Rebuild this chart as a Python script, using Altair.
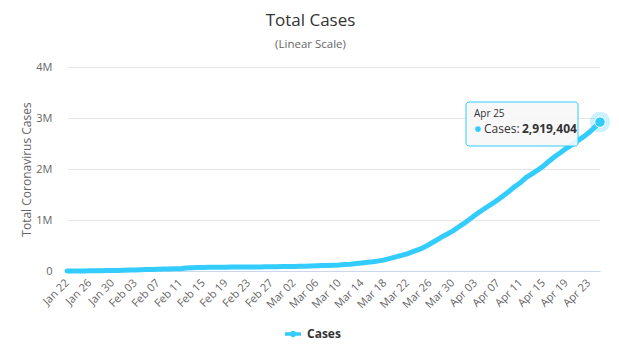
import altair as alt
import pandas as pd

dates = list(pd.date_range("2020-01-22", "2020-04-25").strftime("%b %d"))
cases = [
    580, 845, 1317, 2015, 2800, 4581, 6058, 7813, 9823, 11950,
    14553, 17391, 20630, 24545, 28266, 31439, 34876, 37552, 40553, 43099,
    45134, 59287, 64438, 67100, 69197, 71329, 73332, 75184, 75700, 76677,
    77673, 78651, 79205, 80087, 80828, 81820, 83112, 84615, 86604, 88585,
    90443, 93016, 95314, 98425, 102050, 106099, 109991, 114381, 118948, 126214,
    134576, 145483, 156653, 169593, 182490, 198238, 218822, 246417, 275856, 305036,
    336953, 378235, 418045, 467653, 529591, 593291, 660706, 720117, 782365, 857487,
    932605, 1013157, 1095917, 1176060, 1249754, 1321481, 1396476, 1480202, 1565278, 1657526,
    1735650, 1834721, 1904838, 1976191, 2056054, 2152437, 2240190, 2317758, 2401378, 2472259,
    2549123, 2624074, 2708885, 2811193, 2919404,
]
series = "Cases"
tick_labels = dates[::4]
y_ticks = [0, 1000000, 2000000, 3000000, 4000000]

FONT = "Open Sans"
BLUE = "#33ccff"

df = pd.DataFrame({"date": dates, "cases": cases, "series": series})
last = df.tail(1)

x_enc = alt.X("date:O", sort=dates,
              scale=alt.Scale(type="point", padding=0),
              axis=alt.Axis(title=None, values=tick_labels, labelAngle=-45,
                            labelAlign="right", labelBaseline="middle",
                            labelPadding=10, labelFontSize=11, labelColor="#666",
                            labelFont=FONT, ticks=False, domainColor="#ccd6eb",
                            grid=False, labelOverlap=False))
y_enc = alt.Y("cases:Q", scale=alt.Scale(domain=[0, 4000000], nice=False),
              axis=alt.Axis(title="Total Coronavirus Cases", values=y_ticks,
                            labelExpr="datum.value == 0 ? '0' : (datum.value / 1000000) + 'M'",
                            labelFontSize=11, labelColor="#666",
                            labelFont=FONT, labelPadding=15, ticks=False,
                            domain=False, gridColor="#e6e6e6",
                            titleFont=FONT, titleFontSize=12, titleFontWeight="normal",
                            titleColor="#666", titlePadding=2))

legend_shape = ("M-1,-0.22 L1,-0.22 L1,0.22 L-1,0.22 Z "
                "M0.4,0 A0.4,0.4 0 1,1 -0.4,0 A0.4,0.4 0 1,1 0.4,0 Z")

line = alt.Chart(df).mark_line(strokeWidth=5, strokeCap="round", strokeJoin="round").encode(
    x=x_enc, y=y_enc,
    color=alt.Color("series:N", scale=alt.Scale(range=[BLUE]),
                    legend=alt.Legend(title=None, orient="none", legendX=218, legendY=259,
                                      symbolType=legend_shape, symbolSize=256,
                                      symbolFillColor=BLUE, symbolStrokeColor=BLUE,
                                      symbolStrokeWidth=0, symbolOpacity=1,
                                      labelFont=FONT, labelOffset=6,
                                      labelFontSize=12, labelFontWeight="bold",
                                      labelColor="#333")))

base_last = alt.Chart(last).encode(x=alt.X("date:O", sort=dates), y="cases:Q")
halo = base_last.mark_point(filled=True, size=420, color=BLUE, opacity=0.25)
dot = base_last.mark_point(filled=True, size=110, color=BLUE, opacity=1,
                           stroke="white", strokeWidth=1)

tip_box = alt.Chart(last).mark_rect(fill="#f7f7f7", fillOpacity=0.9, stroke=BLUE,
                                    strokeWidth=1, cornerRadius=3).encode(
    x=alt.value(399), x2=alt.value(511), y=alt.value(35), y2=alt.value(79))
tip_date = base_last.mark_text(align="left", baseline="middle", dx=-126, dy=-8,
                               font=FONT, fontSize=10, color="#333").encode(
    text=alt.value("Apr 25"))
tip_bullet = base_last.mark_point(filled=True, size=32, color=BLUE, opacity=1,
                                  shape="circle", xOffset=-122, yOffset=7)
tip_label = base_last.mark_text(align="left", baseline="middle", dx=-116, dy=7,
                                font=FONT, fontSize=12, color="#333").encode(
    text=alt.value("Cases:"))
tip_value = base_last.mark_text(align="left", baseline="middle", dx=-78, dy=7,
                                font=FONT, fontSize=12, fontWeight="bold",
                                color="#333").encode(
    text=alt.Text("cases:Q", format=",d"))

chart = alt.layer(line, halo, dot, tip_box, tip_date, tip_bullet, tip_label, tip_value).properties(
    width=533, height=204,
    title=alt.Title("Total Cases", subtitle="(Linear Scale)", anchor="middle",
                    dx=-23, font=FONT, fontSize=17, fontWeight="normal", color="#333",
                    subtitleFont=FONT, subtitleFontSize=11.5, subtitleColor="#666",
                    subtitlePadding=9, offset=10),
    autosize=alt.AutoSizeParams(type="none"),
    padding={"left": 67, "top": 67, "right": 19, "bottom": 86},
).configure_view(stroke=None)

chart.save("out.html", embed_options={"renderer": "svg", "actions": False})
